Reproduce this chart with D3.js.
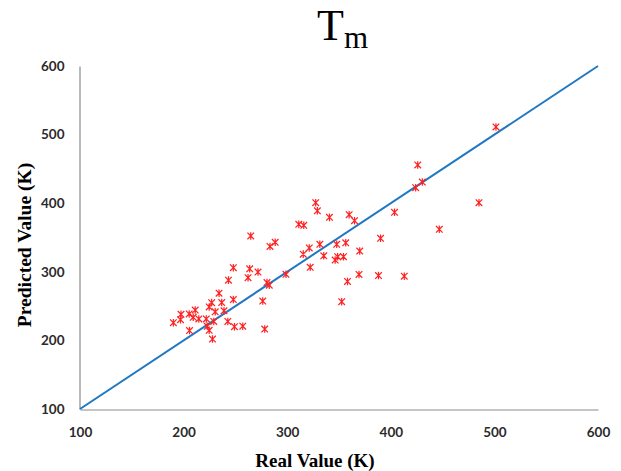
<!DOCTYPE html>
<html>
<head>
<meta charset="utf-8">
<script src="https://cdn.jsdelivr.net/npm/d3@7"></script>
<style>
html,body{margin:0;padding:0;background:#fff;}
svg{display:block;}
</style>
</head>
<body>
<svg id="chart" width="621" height="471"></svg>
<script>
const realValues = [190.1,197.5,197.0,205.4,205.7,209.3,211.2,214.7,221.9,222.8,224.7,224.7,227.1,227.9,229.1,230.5,234.2,236.8,239.0,242.7,243.3,248.0,248.0,249.1,257.1,262.2,263.8,264.8,271.8,276.4,278.3,280.5,282.7,283.4,288.4,298.8,311.2,316.0,315.5,321.3,322.2,327.5,329.1,331.5,335.3,340.8,346.3,347.8,348.7,352.6,354.3,356.5,358.2,359.8,365.0,369.3,370.0,388.1,390.1,403.6,413.0,424.0,426.0,430.4,446.8,485.1,501.5];
const predictedValues = [225.8,238.0,230.2,238.5,214.4,233.7,244.3,231.2,231.2,220.6,248.7,214.7,255.0,202.0,227.6,241.7,268.8,255.2,243.1,227.6,287.8,259.6,306.0,220.0,220.7,291.4,304.4,352.2,299.7,257.4,216.6,284.4,280.5,336.9,343.0,296.4,369.2,367.8,325.7,334.7,306.6,400.7,388.9,340.1,323.3,379.4,317.2,340.1,322.0,256.4,322.0,342.3,285.9,383.2,374.5,296.1,330.3,294.6,348.8,386.7,293.6,422.6,455.7,430.9,362.0,400.7,511.1];
const idealLine = [100, 600];
const xTicks = [100, 200, 300, 400, 500, 600];
const yTicks = [100, 200, 300, 400, 500, 600];

const points = realValues.map((r, i) => ({x: r, y: predictedValues[i]}));

const svg = d3.select("#chart");
const x = d3.scaleLinear().domain([100, 600]).range([80, 598]);
const y = d3.scaleLinear().domain([100, 600]).range([409, 66]);

const xAxis = d3.axisBottom(x).tickValues(xTicks).tickSize(0).tickPadding(18);
const yAxis = d3.axisLeft(y).tickValues(yTicks).tickSize(0).tickPadding(15);

const gx = svg.append("g").attr("transform", "translate(0,409)").call(xAxis);
const gy = svg.append("g").attr("transform", "translate(79.5,0)").call(yAxis);
[gx, gy].forEach(g => {
  g.select(".domain").attr("stroke", "#8c8c8c").attr("stroke-width", 1.2);
  g.selectAll("text")
    .attr("font-family", "Lato, 'Open Sans', sans-serif")
    .attr("font-weight", "bold")
    .attr("font-size", 13.5)
    .attr("fill", "#2b2b2b");
});
gx.select(".domain").attr("transform", "translate(0,0.5)");

svg.append("line")
  .attr("x1", x(idealLine[0])).attr("y1", y(idealLine[0]))
  .attr("x2", x(idealLine[1])).attr("y2", y(idealLine[1]))
  .attr("stroke", "#1f78c1").attr("stroke-width", 2);

const s = 3.3;
const mk = svg.append("g").attr("stroke", "#ff2020").attr("stroke-width", 1.2).attr("fill", "none");
mk.selectAll("path").data(points).enter().append("path")
  .attr("d", d => {
    const cx = x(d.x), cy = y(d.y);
    return `M${cx-s},${cy-s}L${cx+s},${cy+s}M${cx-s},${cy+s}L${cx+s},${cy-s}M${cx},${cy-s-0.5}L${cx},${cy+s+0.5}`;
  });

const title = svg.append("text")
  .attr("x", 317).attr("y", 39.5)
  .attr("font-family", "'Liberation Serif', 'Times New Roman', serif")
  .attr("font-size", 44).attr("fill", "#000");
title.append("tspan").text("T");
title.append("tspan").attr("font-size", 31).attr("dx", 0).attr("dy", 8).text("m");

svg.append("text")
  .attr("x", 315).attr("y", 467)
  .attr("text-anchor", "middle")
  .attr("font-family", "'Liberation Serif', 'Times New Roman', serif")
  .attr("font-weight", "bold").attr("font-size", 19)
  .text("Real Value (K)");

svg.append("text")
  .attr("transform", "translate(31,245) rotate(-90)")
  .attr("text-anchor", "middle")
  .attr("font-family", "'Liberation Serif', 'Times New Roman', serif")
  .attr("font-weight", "bold").attr("font-size", 19.5)
  .text("Predicted Value (K)");
</script>
</body>
</html>
